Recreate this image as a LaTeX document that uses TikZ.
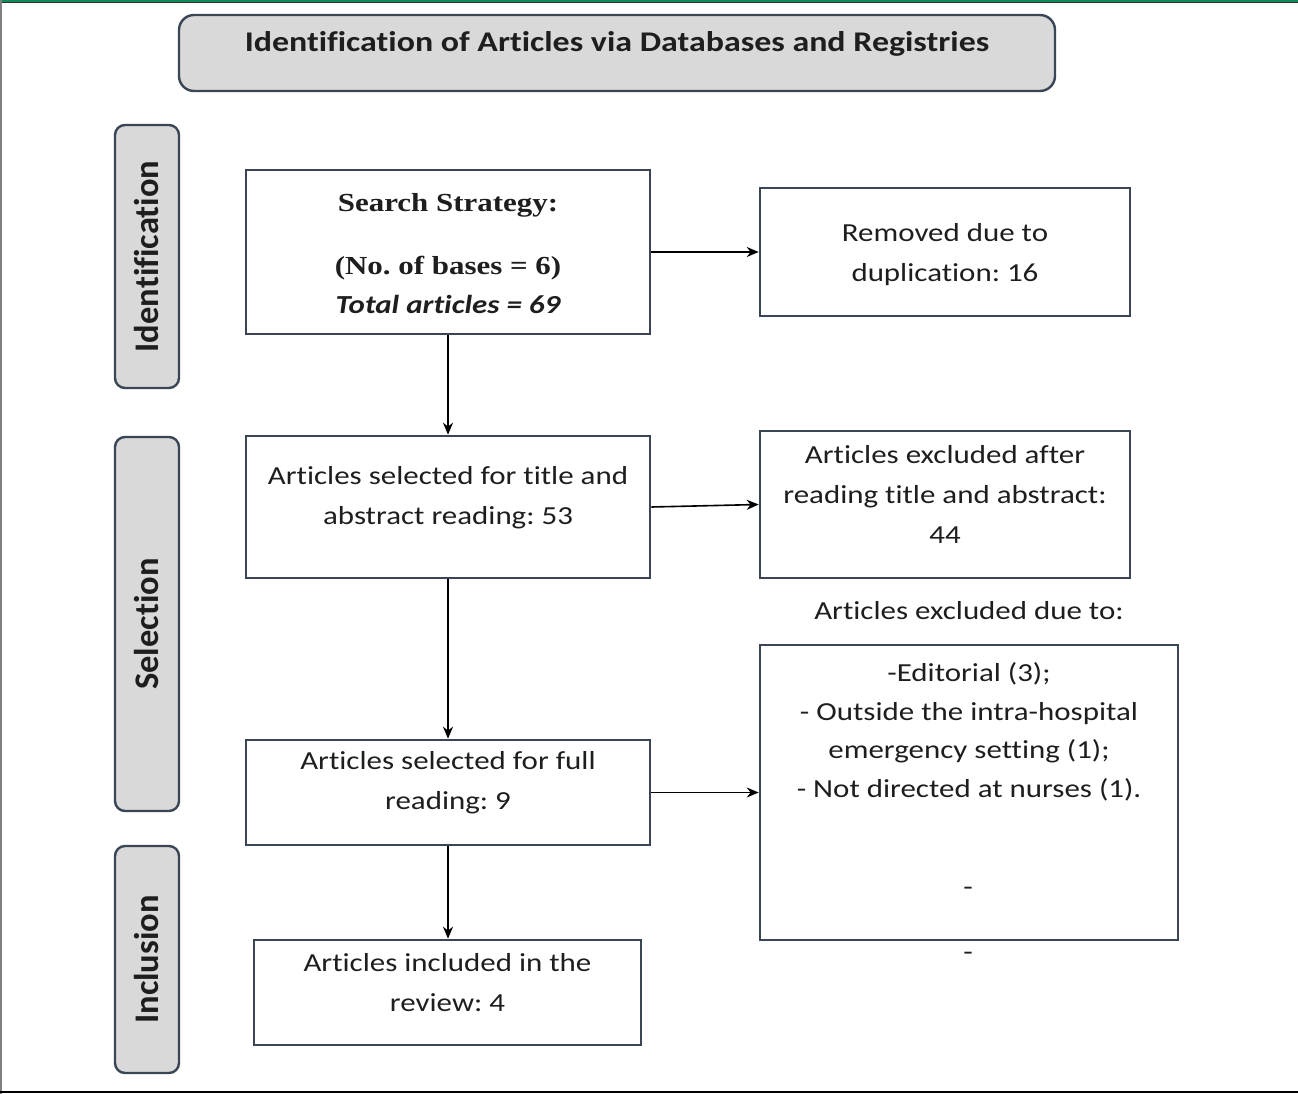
\documentclass[tikz,border=0pt]{standalone}
\usepackage{fontspec}
\setmainfont{Carlito}[FakeStretch=1.19, Ligatures=NoCommon]
\newfontfamily\timesfont{Liberation Serif}[FakeStretch=1.19]
\newfontfamily\tabfont{Carlito}[Ligatures=NoCommon]
\usetikzlibrary{arrows.meta}
\frenchspacing
\definecolor{edge}{HTML}{3A4556}
\definecolor{tabfill}{HTML}{D9D9D9}
\definecolor{ink}{HTML}{1E1E1E}
\definecolor{topgreen}{HTML}{12885A}
\tikzset{
  box/.style={draw=edge, line width=2.6pt, fill=white, minimum width=#1, inner sep=0pt},
  tab/.style={draw=edge, line width=2.4pt, fill=tabfill, rounded corners=10pt, inner sep=0pt},
  txt/.style={align=center, text=ink, font=\fontsize{26}{40}\selectfont, inner sep=0pt},
  tabtxt/.style={rotate=90, text=ink, font=\tabfont\fontsize{34.5}{38}\selectfont\bfseries, inner sep=0pt},
  conn/.style={draw=black, line width=1.6pt, -{Stealth[length=12pt,width=10pt]}}
}
\begin{document}
\begin{tikzpicture}[x=1pt,y=-1pt]
\useasboundingbox (0,0) rectangle (1298,1094);
\fill[white] (0,0) rectangle (1298,1094);
% frame
\draw[topgreen, line width=2.2pt] (0,1.1) -- (1298,1.1);
\draw[black!80, line width=0.9pt] (0,2.8) -- (1298,2.8);
\draw[gray, line width=1.6pt] (0.8,0) -- (0.8,1094);
\draw[black, line width=2pt] (0,1092) -- (1298,1092);

% title
\node[tab, rounded corners=15pt, minimum width=876pt, minimum height=76pt] (titlebox) at (617,53) {};
\node[txt, font=\fontsize{28.5}{34}\selectfont\bfseries] (titletext) at (617,44) {Identification of Articles via Databases and Registries};

% side tabs
\node[tab, minimum width=64pt, minimum height=263pt] (tabid) at (147,256.5) {};
\node[tabtxt] (tabidT) at (147,256.5) {Identification};
\node[tab, minimum width=64pt, minimum height=374pt] (tabsel) at (147,624) {};
\node[tabtxt] (tabselT) at (147,624) {Selection};
\node[tab, minimum width=64pt, minimum height=227pt] (tabinc) at (147,959.5) {};
\node[tabtxt] (tabincT) at (147,959.5) {Inclusion};

% boxes
\node[box=404pt, minimum height=164pt] (search) at (448,252) {};
\node[txt, font=\fontsize{26}{39}\selectfont] (searchT) at (448,253.5)
  {{\timesfont\bfseries Search Strategy:}\\[24pt]{\timesfont\bfseries (No. of bases = 6)}\\{\bfseries\itshape Total articles = 69}};

\node[box=370pt, minimum height=128pt] (removed) at (945,252) {};
\node[txt] (removedT) at (945,255) {Removed due to\\duplication: 16};

\node[box=404pt, minimum height=142pt] (sel) at (448,507) {};
\node[txt] (selT) at (448,498) {Articles selected for title and\\abstract reading: 53};

\node[box=370pt, minimum height=147pt] (excl) at (945,504.5) {};
\node[txt] (exclT) at (945,494) {Articles excluded after\\reading title and abstract:\\44};

\node[txt] (note) at (969,611) {Articles excluded due to:};

\node[box=418pt, minimum height=295pt] (list) at (969,792.5) {};
\node[txt, font=\fontsize{26}{38.5}\selectfont] (listT) at (969,732) {-Editorial (3);\\- Outside the intra-hospital\\emergency setting (1);\\- Not directed at nurses (1).};
\node[txt] (dashA) at (968,891) {-};
\node[txt] (dashB) at (968,956) {-};

\node[box=404pt, minimum height=105pt] (full) at (448,792.5) {};
\node[txt] (fullT) at (448,783) {Articles selected for full\\reading: 9};

\node[box=387pt, minimum height=105pt] (incl) at (447.5,992.5) {};
\node[txt] (inclT) at (447.5,983) {Articles included in the\\review: 4};

% connectors
\draw[conn] (search.south) -- (sel.north);
\draw[conn] (search.east |- removed.west) -- (removed.west);
\draw[conn] (sel.east) -- (excl.west);
\draw[conn] (sel.south) -- (full.north);
\draw[conn] (full.east) -- (list.west);
\draw[conn] (full.south) -- (full.south |- incl.north);
\end{tikzpicture}
\end{document}
